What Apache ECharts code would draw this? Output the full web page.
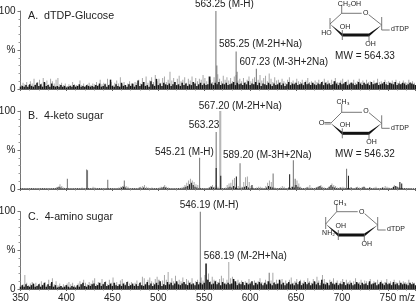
<!DOCTYPE html>
<html><head><meta charset="utf-8">
<style>html,body{margin:0;padding:0;background:#fff}#c{width:416px;height:303px}</style>
<script src="https://cdn.jsdelivr.net/npm/echarts@6/dist/echarts.min.js"></script></head>
<body><div id="c"></div>
<script>
const xTicks=[350,400,450,500,550,600,650,700,750];
// Noise: light trace at odd m/z from 351, dark trace at even m/z from 350
const aGray=[5,8,6,9,5,10,7,13,6,9,12,7,14,8,11,6,13,10,7,12,14,6,8,5,7,4,6,5,9,6,5,4,11,5,7,4,6,8,5,7,6,9,5,12,6,8,7,13,6,9,5,8,11,7,15,6,9,5,7,10,7,6,9,8,12,7,14,9,16,8,11,15,9,18,10,13,8,14,16,9,12,22,11,14,9,13,17,10,12,15,8,13,11,16,9,14,10,13,12,18,14,10,16,12,9,15,11,19,13,10,17,12,15,11,14,10,16,18,11,13,10,14,9,12,16,10,13,15,9,12,18,11,14,17,10,20,13,9,15,11,12,9,13,10,8,12,15,9,11,8,13,10,9,12,8,11,14,9,10,8,11,9,12,8,10,13,9,11,8,12,10,14,9,8,11,13,9,10,12,8,9,12,8,10,13,9,11,8,12,9,10,7,11,8,13,9,10,8,12,9,10,8,11,9,12,8,10,7,11,9,8,12,9,10,8];
const aBlack=[3,4,3,5,3,6,4,3,5,8,4,6,3,9,4,5,3,7,4,3,4,3,5,3,4,2,3,4,3,5,3,4,6,3,4,3,5,4,3,4,3,5,4,7,3,4,6,3,5,12,4,3,6,4,3,8,4,5,3,6,4,7,3,5,11,4,6,9,4,5,3,10,6,4,13,5,7,4,8,6,5,7,4,6,9,5,6,4,8,5,7,4,6,5,9,7,4,6,8,5,7,5,6,16,7,5,8,6,9,5,7,6,8,5,6,7,9,5,8,6,7,5,8,6,10,5,7,6,9,5,8,4,7,6,5,8,6,4,7,5,6,8,5,7,4,6,9,5,7,6,8,5,6,7,5,9,6,7,5,8,6,5,7,6,9,5,8,6,7,5,6,10,7,5,8,6,7,9,5,6,8,7,5,6,9,7,5,8,6,7,5,9,6,7,8,5,6,7,9,6,5,8,7,6,9,5,7,6,8,7,5,6,8,7,6,5];
const aMidMz=[563,564,585,586,607];
const aMidVal=[100,30,48,22,26];
const bGray=[1,1,1,1,1,1,1,1,1,1,1,1,1,1,1,1,1,1,1,2,3,6,4,2,1,1,1,1,1,1,1,1,1,2,1,1,1,1,1,3,2,1,1,1,1,1,1,1,1,1,1,1,1,2,3,4,5,4,3,1,1,1,1,1,2,3,4,5,3,2,1,2,1,1,1,2,3,2,5,3,2,1,1,1,1,1,1,2,3,5,8,11,13,11,9,6,5,3,1,1,1,1,2,4,5,3,5,3,1,1,1,2,5,7,8,12,14,7,4,2,3,9,15,16,9,4,2,1,2,3,3,2,1,4,8,11,9,3,2,1,1,2,4,3,1,1,2,3,2,5,11,7,3,1,1,2,3,5,2,1,1,2,4,5,3,2,1,2,4,7,5,4,2,1,2,3,2,1,1,2,1,1,2,3,2,1,3,2,1,1,2,1,2,3,1,1,1,2,4,3,2,1,2,5,4,1,1,2,1,1,1,1,1];
const bBlack=[1,1,1,1,1,1,1,1,1,1,1,1,1,1,1,1,1,1,1,1,2,3,2,1,1,1,1,1,1,1,1,1,1,1,1,1,1,1,1,1,1,1,1,1,1,1,1,1,1,1,1,1,1,1,1,2,3,2,1,1,1,1,1,1,1,2,1,2,1,1,1,1,1,1,1,1,1,2,3,2,1,1,1,1,1,1,1,1,1,2,3,4,6,8,5,3,2,1,1,1,1,1,1,2,3,2,1,1,1,1,1,1,1,2,3,2,4,2,1,1,1,2,3,4,2,1,1,1,1,1,1,1,1,1,2,4,3,2,1,1,1,1,1,1,1,1,2,1,3,2,5,3,2,1,1,1,2,1,1,1,1,2,3,4,2,1,1,1,3,5,3,2,1,1,2,1,1,1,1,1,2,1,1,2,1,1,2,3,1,1,2,1,1,1,1,1,1,2,1,1,1,1,1,3,4,3,2,1,1,1,1,1,1,1,1,1];
const bMidMz=[401,422,423,445,463,545,563,589,625,647,649,705];
const bMidVal=[13,25,24,12,11,40,73,33,20,37,13,26];
const bLightMz=[567,568];
const bLightVal=[100,100];
const bDarkMz=[563,568,585,643,707,763,765,602];
const bDarkVal=[27,17,16,19,17,9,7,5];
const cGray=[4,6,18,8,5,7,9,6,8,5,7,10,6,9,5,12,7,14,6,10,5,7,4,6,5,7,9,6,8,5,4,7,10,6,12,8,6,9,7,11,14,6,9,8,13,7,10,6,12,8,15,7,9,6,11,13,8,6,10,7,9,5,8,11,6,9,16,14,7,12,15,10,8,13,16,9,7,11,18,12,22,9,14,10,17,8,12,10,15,8,13,11,9,14,7,10,12,9,15,11,18,13,20,10,16,12,11,9,13,17,14,8,12,35,14,16,10,8,12,9,11,7,10,8,13,9,7,11,8,10,14,9,7,12,10,8,11,21,9,12,7,10,13,8,11,7,12,15,8,10,13,9,12,8,11,7,14,10,8,13,9,16,11,8,18,13,9,7,12,10,14,8,11,7,10,13,8,12,9,11,7,10,14,8,9,12,7,11,10,8,13,7,10,9,12,8,11,7,9,13,8,10,7,12,9,8,11,7,10,9,8,12,7,9,8];
const cBlack=[3,5,3,6,4,3,5,7,3,4,6,3,5,8,3,6,4,9,3,5,2,3,4,2,3,5,3,2,4,3,2,5,3,6,8,4,3,5,4,6,7,4,5,8,4,6,9,4,5,7,4,8,5,4,6,4,7,5,9,4,5,7,4,6,4,8,5,4,6,9,5,7,4,6,8,5,10,4,6,5,9,6,8,5,7,10,6,5,7,9,6,5,8,6,7,5,9,6,8,6,8,33,12,9,6,7,10,6,8,5,9,7,6,8,6,7,13,10,5,7,6,9,5,8,6,7,10,5,8,6,9,7,5,8,6,10,7,5,8,6,7,12,6,8,5,7,9,6,7,5,8,6,10,5,7,9,6,8,5,7,10,6,8,5,12,7,6,8,5,9,7,6,8,5,7,6,9,5,7,6,8,5,6,9,7,5,8,6,7,5,10,6,7,8,5,6,9,7,5,8,6,7,5,9,6,7,5,8,6,7,6,5,8,6,7,5];
const cMidMz=[546,621,501];
const cMidVal=[100,21,12];
const yLabels={0:'0',50:'%',100:'100'};
const ink='#222';
const ff='"Liberation Sans",Arial,sans-serif';

const tops=[11,111,211.7], hs=[78,78,77.3], blackWidth=[1.5,1,1.5];
const odd=v=>v.map((y,i)=>[351+2*i,y]);
const even=v=>v.map((y,i)=>[350+2*i,y]);
const zip=(m,v)=>m.map((x,i)=>[x,v[i]]);
const panelData=[
 {gray:odd(aGray),mid:zip(aMidMz,aMidVal),black:even(aBlack)},
 {gray:odd(bGray).concat(zip(bLightMz,bLightVal)),mid:zip(bMidMz,bMidVal),black:even(bBlack).concat(zip(bDarkMz,bDarkVal))},
 {gray:odd(cGray),mid:zip(cMidMz,cMidVal),black:even(cBlack)}
];
const grid=[],xAxis=[],yAxis=[],series=[];
panelData.forEach((p,i)=>{
 grid.push({left:20.5,width:395,top:tops[i],height:hs[i],outerBoundsMode:'none',containLabel:false});
 xAxis.push({type:'value',gridIndex:i,min:350,max:780,interval:50,splitLine:{show:false},
  axisLine:{lineStyle:{color:'#666',width:1}},axisTick:{length:2,lineStyle:{color:'#666'}},
  minorTick:{show:true,splitNumber:5,length:1.5,lineStyle:{color:'#888'}},
  axisLabel:{show:i===2,color:ink,fontFamily:ff,fontSize:10,margin:4,hideOverlap:false,
   customValues:xTicks,formatter:v=>String(v)}});
 yAxis.push({type:'value',gridIndex:i,min:0,max:100,interval:50,splitLine:{show:false},
  axisLine:{show:true,lineStyle:{color:'#777',width:1}},axisTick:{show:true,length:3,lineStyle:{color:'#777'}},
  minorTick:{show:true,splitNumber:5,length:2,lineStyle:{color:'#999'}},
  axisLabel:{color:ink,fontFamily:ff,fontSize:10,margin:5,formatter:v=>yLabels[v]}});
 const s=(data,color,w)=>series.push({type:'bar',xAxisIndex:i,yAxisIndex:i,data,barWidth:w,barGap:'-100%',silent:true,animation:false,itemStyle:{color}});
 s(p.gray,'#a8a8a8',1);s(p.mid,'#707070',1);s(p.black,'#161616',blackWidth[i]);
});

const g=[];
const T=(text,x,y,o={})=>g.push({type:'text',x,y,silent:true,style:{text,fill:o.fill||ink,font:(o.size||10)+'px '+ff,textAlign:o.align||'left',textVerticalAlign:'middle'}});
const L=(pts,w=0.8,c='#555')=>g.push({type:'polyline',silent:true,shape:{points:pts},style:{stroke:c,lineWidth:w,fill:null}});
const P=(pts)=>g.push({type:'polygon',silent:true,shape:{points:pts},style:{fill:'#111',stroke:null}});

T('A.  dTDP-Glucose',28,15.7,{size:10.7});T('563.25 (M-H)',195,4.5);T('585.25 (M-2H+Na)',219,44);T('607.23 (M-3H+2Na)',239.5,62.7);T('MW = 564.33',365,56,{align:'center'});
T('B.  4-keto sugar',28,115.7,{size:10.7});T('567.20 (M-2H+Na)',198.7,106.7);T('563.23',188.7,125);T('545.21 (M-H)',155,152.3);T('589.20 (M-3H+2Na)',223,155);T('MW = 546.32',365,154.5,{align:'center'});
T('C.  4-amino sugar',28,216.7,{size:10.7});T('546.19 (M-H)',179.7,205.7);T('568.19 (M-2H+Na)',203.7,256.7);
T('m/z',415,298,{align:'right'});

// sugar rings: C5, O, C1, C2, C3, C4
function ring(c5,o,c1,c2,c3,c4){
 L([c4,c5,[o[0]-4,c5[1]]]);L([[o[0]+3,o[1]+2],c1]);
 T('O',o[0],o[1],{size:7,align:'center'});
 P([c1,[c2[0],c2[1]-1.5],[c2[0],c2[1]+1.5]]);
 P([[c2[0],c2[1]-1.5],[c2[0],c2[1]+1.5],[c3[0],c3[1]+1.5],[c3[0],c3[1]-1.5]]);
 P([c4,[c3[0],c3[1]-1.5],[c3[0],c3[1]+1.5]]);
 L([[c1[0],c1[1]-8],[c1[0],c1[1]+5],[c1[0]+8,c1[1]+5]]);
 L([[c2[0],c2[1]],[c2[0],c2[1]+6]]);
 L([[c3[0],c3[1]-5],[c3[0],c3[1]+5]]);
}
ring([341.7,13.3],[365.7,12.7],[381.7,25],[369,35],[342.3,35],[330,24]);
L([[341.7,13.3],[341.7,5]]);L([[330,18],[330,29]]);
T('CH\u2082OH',349.5,4,{size:7,align:'center'});T('OH',345,26.7,{size:7,align:'center'});T('HO',326.5,33.5,{size:7,align:'center'});T('OH',370.5,44.3,{size:7,align:'center'});T('dTDP',391,29.5,{size:7});

ring([341.7,112.3],[366,110.7],[381.7,123.3],[369,133.3],[342.3,133.3],[330.7,123.3]);
L([[341.7,112.3],[341.7,104]]);L([[324.5,122.5],[330.7,122.5]]);L([[324.5,124],[330.7,124]]);
T('CH\u2083',343,102,{size:7,align:'center'});T('O',321.7,123.3,{size:7.5,align:'center'});T('OH',345,125,{size:7,align:'center'});T('OH',371.5,142.5,{size:7,align:'center'});T('dTDP',391,128,{size:7});

ring([336.7,211.7],[361.7,211.7],[377.7,225],[364.3,235],[338.3,235],[325.7,224]);
L([[336.7,211.7],[336.7,204]]);L([[325.7,217],[325.7,229]]);
T('CH\u2083',340,202.7,{size:7,align:'center'});T('OH',340.7,226,{size:7,align:'center'});T('NH\u2082',328.5,233.5,{size:7,align:'center'});T('OH',366.7,244.5,{size:7,align:'center'});T('dTDP',387,229,{size:7});

const chart=echarts.init(document.getElementById('c'),null,{renderer:'canvas'});
chart.setOption({animation:false,backgroundColor:'#fff',grid,xAxis,yAxis,series,graphic:g});
</script></body></html>
